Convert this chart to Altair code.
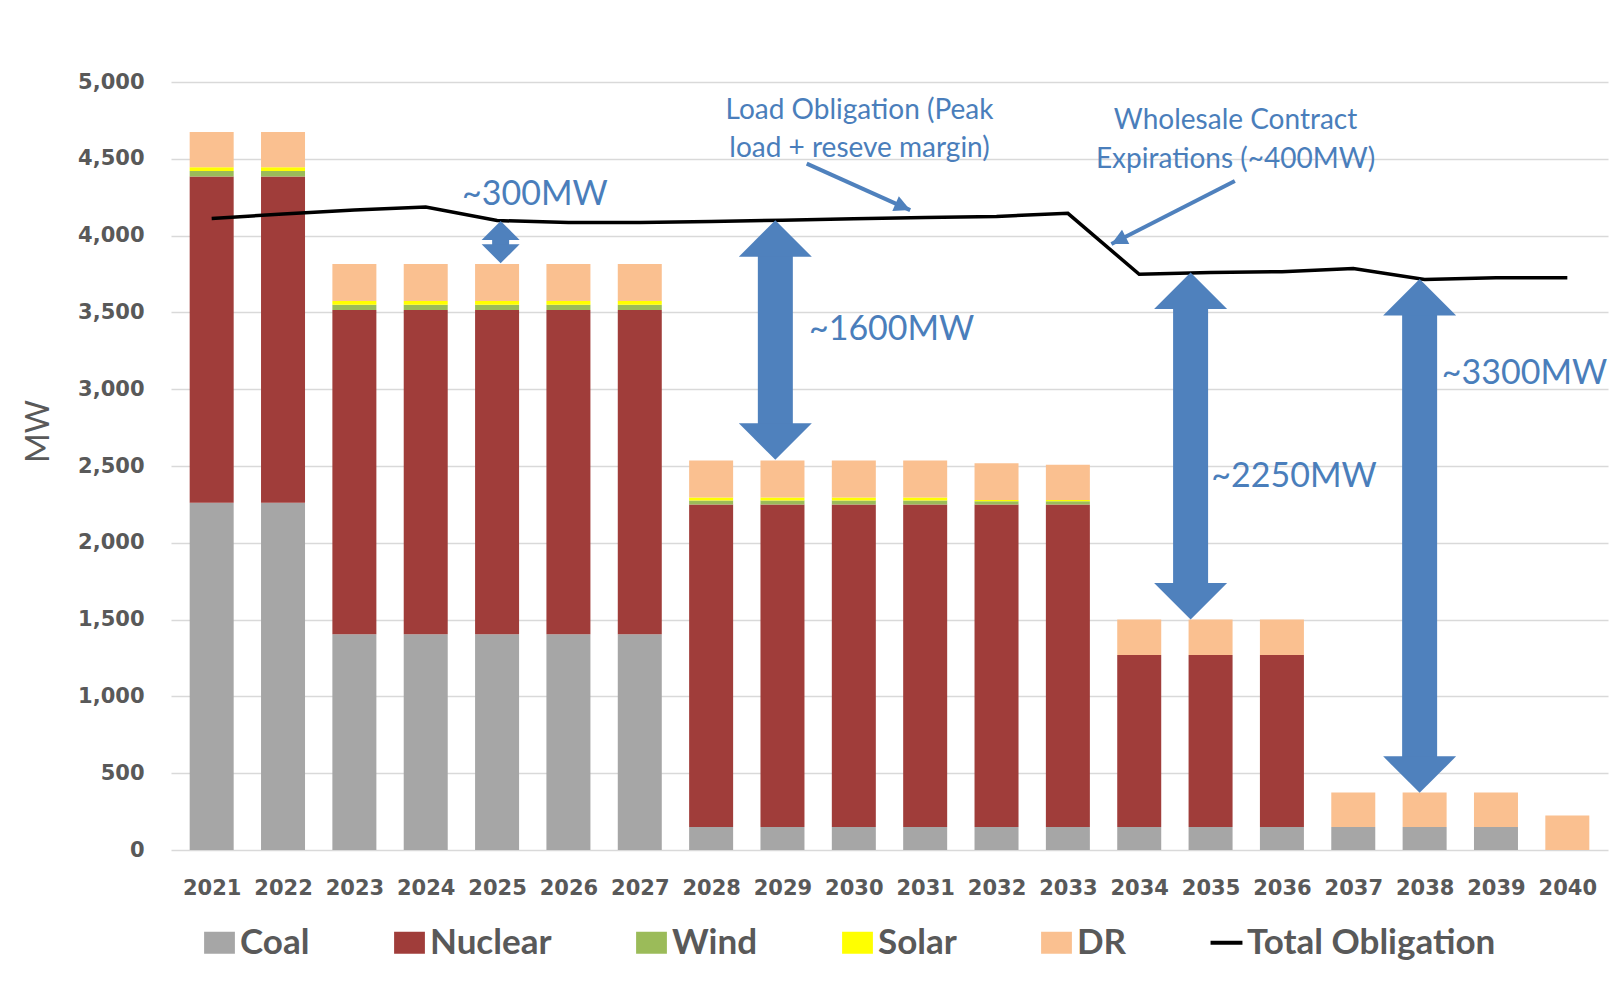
import altair as alt
import pandas as pd

# ---------------- data ----------------
years = [2021, 2022, 2023, 2024, 2025, 2026, 2027, 2028, 2029, 2030,
         2031, 2032, 2033, 2034, 2035, 2036, 2037, 2038, 2039, 2040]
coal = [2260, 2260, 1405, 1405, 1405, 1405, 1405, 150, 150, 150,
        150, 150, 150, 150, 150, 150, 150, 150, 150, 0]
nuclear = [2125, 2125, 2110, 2110, 2110, 2110, 2110, 2100, 2100, 2100,
           2100, 2100, 2100, 1120, 1120, 1120, 0, 0, 0, 0]
wind = [35, 35, 35, 35, 35, 35, 35, 25, 25, 25,
        25, 20, 20, 0, 0, 0, 0, 0, 0, 0]
solar = [25, 25, 25, 25, 25, 25, 25, 20, 20, 20,
         20, 8, 8, 0, 0, 0, 0, 0, 0, 0]
dr = [230, 230, 240, 240, 240, 240, 240, 240, 240, 240,
      240, 240, 230, 230, 230, 230, 225, 225, 225, 225]
total_obligation = [4112, 4140, 4166, 4186, 4098, 4085, 4085, 4092, 4100, 4110,
                    4118, 4125, 4145, 3748, 3760, 3765, 3785, 3715, 3725, 3725]

sources = ["Coal", "Nuclear", "Wind", "Solar", "DR"]
legend_items = ["Coal", "Nuclear", "Wind", "Solar", "DR", "Total Obligation"]
y_ticks = [0, 500, 1000, 1500, 2000, 2500, 3000, 3500, 4000, 4500, 5000]

# gap annotations (double arrows)
gap_small_x = [2025.05]
gap_small_low = [3820]
gap_small_high = [4095]
gap_big_x = [2028.9, 2034.72, 2037.93]
gap_big_low = [2540, 1500, 372]
gap_big_high = [4100, 3760, 3718]

gap_labels = ["~300MW", "~1600MW", "~2250MW", "~3300MW"]
gap_label_x = [2025.53, 2030.53, 2036.17, 2039.4]
gap_label_y = [4267, 3385, 2429, 3096]

note_lines = ["Load Obligation (Peak", "load + reseve margin)",
              "Wholesale Contract", "Expirations (~400MW)"]
note_x = [2030.08, 2030.08, 2035.35, 2035.35]
note_y = [4812, 4563, 4745, 4489]

pointer_x1 = [2029.34, 2035.34]
pointer_y1 = [4469, 4355]
pointer_x2 = [2030.79, 2033.61]
pointer_y2 = [4166, 3945]

# ---------------- styling ----------------
colors = ["#a6a6a6", "#a03d3a", "#9bbb59", "#ffff00", "#fac090", "#000000"]
BLUE = "#4f81bd"
BLUE_TEXT = "#4a7ebb"
GRAY_TEXT = "#595959"
SQ = "M-1.4,-1L1.4,-1L1.4,1L-1.4,1Z"
LINE_SYM = "M-1.45,-0.18L1.45,-0.18L1.45,0.18L-1.45,0.18Z"
HEAD_UP = "M0,0L-1,1L1,1Z"
HEAD_DOWN = "M0,0L-1,-1L1,-1Z"
POINTER = "M0,0L-1,2L1,2Z"

rows = []
series = [coal, nuclear, wind, solar, dr]
for i, yr in enumerate(years):
    for k, name in enumerate(sources):
        rows.append({"year": yr, "source": name, "mw": series[k][i], "ord": k})
bars_df = pd.DataFrame(rows)
line_df = pd.DataFrame({"year": years, "obligation": total_obligation})
small_df = pd.DataFrame({"year": gap_small_x, "low": gap_small_low, "high": gap_small_high})
big_df = pd.DataFrame({"year": gap_big_x, "low": gap_big_low, "high": gap_big_high})
glab_df = pd.DataFrame({"x": gap_label_x, "y": gap_label_y, "t": gap_labels})
note_df = pd.DataFrame({"x": note_x, "y": note_y, "t": note_lines})
ptr_df = pd.DataFrame({"x1": pointer_x1, "y1": pointer_y1, "x2": pointer_x2, "y2": pointer_y2,
                       "i": [0, 1]})

X_SCALE = alt.Scale(domain=[2020.5, 2040.5], nice=False, zero=False)
Y_SCALE = alt.Scale(domain=[0, 5000], nice=False, zero=True)

X_AXIS = alt.Axis(values=years, labelExpr="format(datum.value, 'd')", title=None, grid=False,
                  domain=False, ticks=False, labelPadding=27, labelFont="DejaVu Sans",
                  labelFontWeight="bold", labelFontSize=21, labelColor=GRAY_TEXT,
                  labelFlush=False)
Y_AXIS = alt.Axis(values=y_ticks, labelExpr="format(datum.value, ',')", title="MW", grid=True,
                  gridColor="#d9d9d9", gridWidth=1.3, domain=False, ticks=False,
                  labelPadding=27, labelFont="DejaVu Sans", labelFontWeight="bold",
                  labelFontSize=21, labelColor=GRAY_TEXT,
                  titleFont="Lato", titleFontSize=32, titleFontWeight="normal",
                  titleColor=GRAY_TEXT, titleX=-133, titleY=349, titleAngle=270,
                  titleAlign="center", titleBaseline="middle")


def xq(field):
    return alt.X(field, type="quantitative", scale=X_SCALE, axis=X_AXIS, title=None)


def yq(field):
    return alt.Y(field, type="quantitative", scale=Y_SCALE, axis=Y_AXIS, title="MW")


legend = alt.Legend(
    title=None, orient="none", legendX=31, legendY=843,
    direction="horizontal", columns=6, columnPadding=82,
    symbolType={"expr": "datum.value === 'Total Obligation' ? '%s' : '%s'" % (LINE_SYM, SQ)},
    symbolSize=484, symbolStrokeWidth=0,
    labelFont="Lato", labelFontSize=35, labelFontWeight="bold",
    labelColor=GRAY_TEXT, labelOffset=3, labelLimit=0, padding=0,
)

bars = alt.Chart(bars_df).mark_bar(size=44).encode(
    x=xq("year"),
    y=alt.Y("mw:Q", stack="zero", scale=Y_SCALE, axis=Y_AXIS, title="MW"),
    color=alt.Color("source:N", scale=alt.Scale(domain=legend_items, range=colors), legend=legend),
    order=alt.Order("ord:Q", sort="ascending"),
)

line = alt.Chart(line_df).mark_line(color="black", strokeWidth=3.5).encode(
    x=xq("year"), y=yq("obligation"))

# small double arrow
s_shaft = alt.Chart(small_df).mark_bar(size=17, color=BLUE, yOffset=15, y2Offset=-15).encode(
    x=xq("year"), y=yq("high"), y2="low")
s_up = alt.Chart(small_df).mark_point(shape=HEAD_UP, size=1444, filled=True, color=BLUE,
                                      opacity=1, strokeWidth=0).encode(x=xq("year"), y=yq("high"))
s_down = alt.Chart(small_df).mark_point(shape=HEAD_DOWN, size=1444, filled=True, color=BLUE,
                                        opacity=1, strokeWidth=0).encode(x=xq("year"), y=yq("low"))

# big double arrows
b_shaft = alt.Chart(big_df).mark_bar(size=35, color=BLUE, yOffset=34, y2Offset=-34).encode(
    x=xq("year"), y=yq("high"), y2="low")
b_up = alt.Chart(big_df).mark_point(shape=HEAD_UP, size=5329, filled=True, color=BLUE,
                                    opacity=1, strokeWidth=0).encode(x=xq("year"), y=yq("high"))
b_down = alt.Chart(big_df).mark_point(shape=HEAD_DOWN, size=5329, filled=True, color=BLUE,
                                      opacity=1, strokeWidth=0).encode(x=xq("year"), y=yq("low"))

# pointer arrows
ptr_rule = alt.Chart(ptr_df).mark_rule(color=BLUE, strokeWidth=4).encode(
    x=xq("x1"), y=yq("y1"), x2="x2", y2="y2")
ptr_head1 = alt.Chart(ptr_df).transform_filter("datum.i == 0").mark_point(
    shape=POINTER, size=256, filled=True, color=BLUE, opacity=1, strokeWidth=0, angle=114
).encode(x=xq("x2"), y=yq("y2"))
ptr_head2 = alt.Chart(ptr_df).transform_filter("datum.i == 1").mark_point(
    shape=POINTER, size=256, filled=True, color=BLUE, opacity=1, strokeWidth=0, angle=243
).encode(x=xq("x2"), y=yq("y2"))

gap_text = alt.Chart(glab_df).mark_text(font="Lato", fontSize=34, color=BLUE_TEXT,
                                        align="center", baseline="middle").encode(
    x=xq("x"), y=yq("y"), text="t:N")
note_text = alt.Chart(note_df).mark_text(font="Lato", fontSize=28, color=BLUE_TEXT,
                                         align="center", baseline="middle").encode(
    x=xq("x"), y=yq("y"), text="t:N")

chart = alt.layer(
    bars, line, s_shaft, s_up, s_down, b_shaft, b_up, b_down,
    ptr_rule, ptr_head1, ptr_head2, gap_text, note_text
).properties(
    width=1437, height=768,
    padding={"left": 163, "top": 74, "right": 6, "bottom": 136},
    autosize=alt.AutoSizeParams(type="none"),
    background="white",
).configure_view(stroke=None)

chart.save("out.html", embed_options={"renderer": "svg", "actions": False})
